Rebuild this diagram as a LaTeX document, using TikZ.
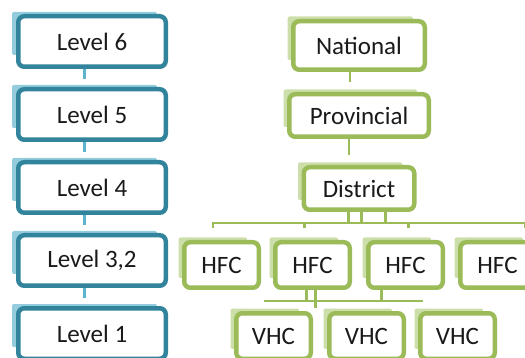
\documentclass[tikz,border=0pt]{standalone}
\usepackage{fontspec}
\setmainfont{Carlito}
\usepackage{xcolor}
\usepackage{tikz}
\usetikzlibrary{positioning,backgrounds}

\definecolor{tealline}{HTML}{31849B}
\definecolor{tealshade}{HTML}{93CDDD}
\definecolor{tealconn}{HTML}{5DB3CC}
\definecolor{greenline}{HTML}{9BBB59}
\definecolor{greenshade}{HTML}{CCDEAA}
\definecolor{boxtext}{HTML}{1A1A1A}

\begin{document}
\begin{tikzpicture}[
x=1pt, y=-1pt,
node distance=18pt,
card/.style={rounded corners=6pt, line width=4.5pt, fill=white, align=center, text=boxtext, font=\fontsize{25}{29}\selectfont},
lvl/.style={card, draw=tealline, minimum width=147.5pt, minimum height=50.5pt},
org/.style={card, draw=greenline},
unit/.style={org, minimum width=74.5pt, minimum height=45.5pt},
tshade/.style={fill=tealshade, rounded corners=2pt},
gshade/.style={fill=greenshade, rounded corners=2pt},
tcon/.style={draw=tealconn, line width=3pt},
gcon/.style={draw=greenline, line width=2.2pt}
]
\useasboundingbox (0,0) rectangle (525,358);

% levels
\node[lvl] (lv6) at (92,41.5) {Level 6};
\node[lvl, below=of lv6] (lv5) {Level 5};
\node[lvl, below=of lv5] (lv4) {Level 4};
\node[lvl, below=of lv4] (lv3) {Level 3,2};
\node[lvl, below=of lv3] (lv1) {Level 1};

% health system
\node[org, minimum width=131.5pt, minimum height=48.5pt] (nat) at (359,45.5) {National};
\node[org, minimum width=139.5pt, minimum height=42.5pt, below=20pt of nat] (prov) {Provincial};
\node[org, minimum width=110.5pt, minimum height=42.5pt, below=26pt of prov] (dist) {District};
\node[unit] (hfc1) at (221.5,265) {HFC};
\node[unit, right=12pt of hfc1] (hfc2) {HFC};
\node[unit, right=14pt of hfc2] (hfc3) {HFC};
\node[unit, right=13pt of hfc3] (hfc4) {HFC};
\node[unit] (vhc1) at (273.5,336) {VHC};
\node[unit, right=14pt of vhc1] (vhc2) {VHC};
\node[unit, right=12pt of vhc2] (vhc3) {VHC};

\begin{scope}[on background layer]
\foreach \n in {lv6,lv5,lv4,lv3,lv1}
  \path[tshade] ([xshift=-4pt,yshift=2pt]\n.north west) rectangle ([xshift=-11pt,yshift=14pt]\n.south east);
\foreach \n in {nat,prov,dist,hfc1,hfc2,hfc3,hfc4,vhc1,vhc2,vhc3}
  \path[gshade] ([xshift=-3.5pt,yshift=2.5pt]\n.north west) rectangle ([xshift=-14pt,yshift=12pt]\n.south east);
\end{scope}

\draw[tcon] ([xshift=-8pt]lv6.south) -- ([xshift=-8pt,yshift=8pt]lv5.north);
\draw[tcon] ([xshift=-8pt]lv5.south) -- ([xshift=-8pt,yshift=8pt]lv4.north);
\draw[tcon] ([xshift=-8pt]lv4.south) -- ([xshift=-8pt,yshift=8pt]lv3.north);
\draw[tcon] ([xshift=-8pt]lv3.south) -- ([xshift=-8pt,yshift=8pt]lv1.north);

\draw[gcon] ([xshift=-9pt]nat.south) -- ([xshift=-9pt,yshift=10pt]prov.north);
\draw[gcon] ([xshift=-10pt]prov.south) -- ([xshift=-10pt,yshift=10pt]dist.north);

\foreach \dx in {-10.5,2.5,26.5}
  \draw[gcon] ([xshift=\dx pt]dist.south) -- ([xshift=\dx pt,yshift=-11pt]dist.south);
\draw[gcon] ([xshift=-8.5pt,yshift=12pt]hfc1.north) |- ([xshift=27.5pt,yshift=17pt]hfc4.north) -- ([xshift=27.5pt,yshift=12pt]hfc4.north);
\draw[gcon] ([xshift=-8pt,yshift=17pt]hfc2.north) -- ([xshift=-8pt,yshift=12pt]hfc2.north);
\draw[gcon] ([xshift=3pt,yshift=17pt]hfc3.north) -- ([xshift=3pt,yshift=12pt]hfc3.north);

\draw[gcon] ([xshift=-6pt]hfc2.south) -- ([xshift=-6pt,yshift=-11pt]hfc2.south);
\draw[gcon] ([xshift=3pt]hfc2.south) -- ([xshift=3pt,yshift=-18pt]hfc2.south);
\draw[gcon] ([xshift=-24pt]hfc3.south) -- ([xshift=-24pt,yshift=-11pt]hfc3.south);
\draw[gcon] ([xshift=-9.5pt,yshift=10pt]vhc1.north) -- ([xshift=-34.5pt,yshift=10pt]vhc3.north);
\end{tikzpicture}
\end{document}
